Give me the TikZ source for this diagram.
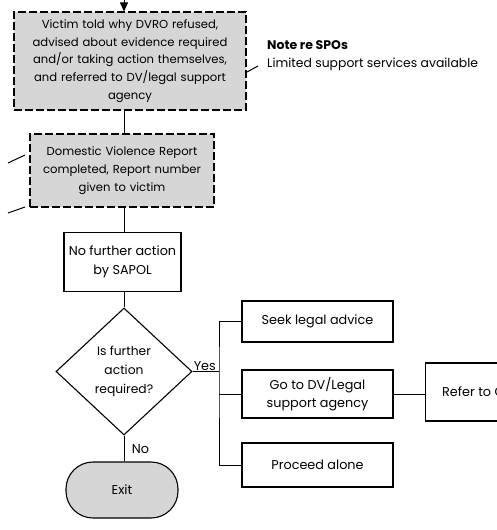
\documentclass[tikz,border=0pt]{standalone}
\usepackage{fontspec}
\setmainfont{Poppins}
\usetikzlibrary{arrows.meta,shapes.geometric}
\begin{document}
\begin{tikzpicture}[x=1pt,y=-1pt,
  font=\fontsize{12.8}{18.5}\selectfont,
  shadedbox/.style={draw, dash pattern=on 8pt off 3pt, fill=black!16, line width=1.1pt,
    align=center, inner sep=2pt, font=\fontsize{11.6}{17.8}\selectfont},
  plainbox/.style={draw, fill=white, line width=1.1pt, align=center, inner sep=2pt},
  conn/.style={draw, line width=1pt},
  tick/.style={draw, line width=1pt}]
\useasboundingbox (0,0) rectangle (497,530);

% main column
\node[shadedbox, minimum width=232pt, minimum height=98pt, text width=226pt] (b1) at (130,61)
  {Victim told why DVRO refused,\\ advised about evidence required\\ and/or taking action themselves,\\ and referred to DV/legal support\\ agency};
\node[shadedbox, minimum width=184pt, minimum height=73pt, text width=178pt] (b2) at (122,170.5)
  {Domestic Violence Report\\ completed, Report number\\ given to victim};
\node[plainbox, minimum width=117pt, minimum height=59pt] (b3) at (122.5,262)
  {No further action\\ by SAPOL};
\node[diamond, draw, fill=white, line width=1.1pt, minimum width=136pt, minimum height=127pt,
  inner sep=0pt, align=center, font=\fontsize{12.3}{19}\selectfont] (q) at (124,371.5)
  {Is further\\ action\\ required?};
\node[draw, fill=black!16, line width=1.1pt, rounded corners=27pt,
  minimum width=112pt, minimum height=56pt] (exit) at (122,490) {Exit};

% options
\node[plainbox, minimum width=151pt, minimum height=41pt] (seek) at (317.5,321.5) {Seek legal advice};
\node[plainbox, minimum width=151pt, minimum height=48pt] (goto) at (317.5,394) {Go to DV/Legal\\ support agency};
\node[plainbox, minimum width=151pt, minimum height=44pt] (alone) at (317.5,465) {Proceed alone};
\node[plainbox, minimum width=120pt, minimum height=58pt, anchor=west] (refer) at (425,392) {};
\node[anchor=west, inner sep=0pt] (refertxt) at (442,392) {Refer to G};

% side note
\node[anchor=west, font=\bfseries\fontsize{12.5}{14}\selectfont, inner sep=0pt] (note) at (267,45) {Note re SPOs};
\node[anchor=west, inner sep=0pt, font=\fontsize{12.4}{14}\selectfont] (limited) at (267,64) {Limited support services available};

% connectors
\coordinate (in) at (124,0);
\draw[conn, -{Triangle[length=9pt,width=8pt]}] (in) -- (in |- b1.north);
\draw[conn] (in |- b1.south) -- (in |- b2.north);
\draw[conn] (in |- b2.south) -- (in |- b3.north);
\draw[conn] (in |- b3.south) -- (q.north);
\draw[conn] (q.south) -- node[right, xshift=4pt, yshift=-1pt] {No} (q.south |- exit.north);
\coordinate (split) at (219,371.5);
\draw[conn] (q.east) -- (split);
\node[anchor=south west, inner sep=1pt] (yes) at (q.east) {Yes};
\draw[conn] (seek.west) -| (split) |- (alone.west);
\draw[conn] (split |- goto.west) -- (goto.west);
\draw[conn] (goto.east) -- (refer.west |- goto.east);

% margin ticks
\draw[tick] (247,72) -- (258,66);
\draw[tick] (8,163) -- (25,155);
\draw[tick] (8,213) -- (25,207);
\end{tikzpicture}
\end{document}
